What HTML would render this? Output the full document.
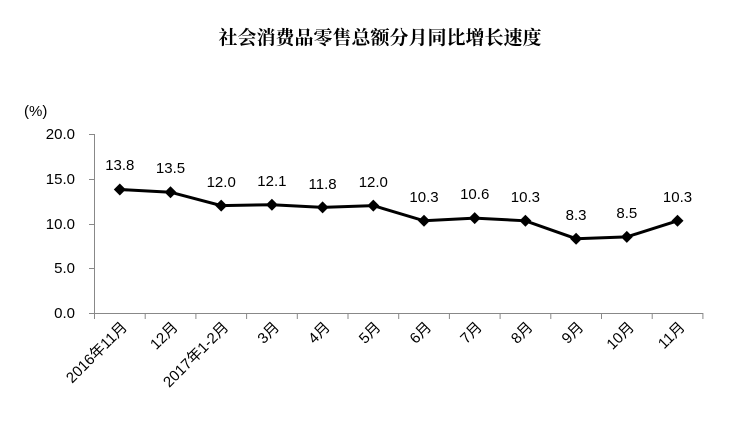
<!DOCTYPE html>
<html><head><meta charset="utf-8"><style>body{margin:0;background:#fff}</style></head><body>
<svg width="741" height="434" xmlns="http://www.w3.org/2000/svg" style="display:block">
<text x="380" y="44" text-anchor="middle" font-family="'Noto Serif CJK SC','Liberation Serif',serif" font-weight="bold" font-size="19">社会消费品零售总额分月同比增长速度</text>
<g font-family="'Liberation Sans','Noto Sans CJK SC',sans-serif" font-size="15" fill="#000">
<text x="24" y="116">(%)</text>
<g text-anchor="end">
<text x="75" y="139">20.0</text>
<text x="75" y="184">15.0</text>
<text x="75" y="229">10.0</text>
<text x="75" y="273">5.0</text>
<text x="75" y="318">0.0</text>
</g>
</g>
<g stroke="#888" stroke-width="1">
<line x1="94.5" y1="134" x2="94.5" y2="313"/>
<line x1="89" y1="134.5" x2="94" y2="134.5"/>
<line x1="89" y1="179.5" x2="94" y2="179.5"/>
<line x1="89" y1="224.5" x2="94" y2="224.5"/>
<line x1="89" y1="268.5" x2="94" y2="268.5"/>
<line x1="89" y1="313.5" x2="703" y2="313.5"/>
</g>
<g stroke="#888">
<line x1="94.5" y1="313" x2="94.5" y2="319"/><line x1="145.2" y1="313" x2="145.2" y2="319"/><line x1="195.9" y1="313" x2="195.9" y2="319"/><line x1="246.6" y1="313" x2="246.6" y2="319"/><line x1="297.3" y1="313" x2="297.3" y2="319"/><line x1="348" y1="313" x2="348" y2="319"/><line x1="398.7" y1="313" x2="398.7" y2="319"/><line x1="449.4" y1="313" x2="449.4" y2="319"/><line x1="500.1" y1="313" x2="500.1" y2="319"/><line x1="550.8" y1="313" x2="550.8" y2="319"/><line x1="601.5" y1="313" x2="601.5" y2="319"/><line x1="652.2" y1="313" x2="652.2" y2="319"/><line x1="702.9" y1="313" x2="702.9" y2="319"/>
</g>
<polyline fill="none" stroke="#000" stroke-width="3" points="119.8,189.5 170.5,192.2 221.2,205.6 271.9,204.7 322.6,207.4 373.3,205.6 424,220.8 474.7,218.1 525.4,220.8 576.1,238.7 626.8,236.9 677.5,220.8"/>
<g fill="#000">
<path d="M119.8,183.5l6,6l-6,6l-6,-6z"/><path d="M170.5,186.2l6,6l-6,6l-6,-6z"/><path d="M221.2,199.6l6,6l-6,6l-6,-6z"/><path d="M271.9,198.7l6,6l-6,6l-6,-6z"/><path d="M322.6,201.4l6,6l-6,6l-6,-6z"/><path d="M373.3,199.6l6,6l-6,6l-6,-6z"/><path d="M424,214.8l6,6l-6,6l-6,-6z"/><path d="M474.7,212.1l6,6l-6,6l-6,-6z"/><path d="M525.4,214.8l6,6l-6,6l-6,-6z"/><path d="M576.1,232.7l6,6l-6,6l-6,-6z"/><path d="M626.8,230.9l6,6l-6,6l-6,-6z"/><path d="M677.5,214.8l6,6l-6,6l-6,-6z"/>
</g>
<g font-family="'Liberation Sans',sans-serif" font-size="15" text-anchor="middle">
<text x="119.8" y="170">13.8</text><text x="170.5" y="173">13.5</text><text x="221.2" y="187">12.0</text><text x="271.9" y="186">12.1</text><text x="322.6" y="189">11.8</text><text x="373.3" y="187">12.0</text><text x="424" y="202">10.3</text><text x="474.7" y="199">10.6</text><text x="525.4" y="202">10.3</text><text x="576.1" y="220">8.3</text><text x="626.8" y="218">8.5</text><text x="677.5" y="202">10.3</text>
</g>
<g font-family="'Liberation Sans','Noto Sans CJK SC',sans-serif" font-size="15" text-anchor="end">
<text transform="translate(128,328) rotate(-45)">2016年11月</text>
<text transform="translate(178.7,328) rotate(-45)">12月</text>
<text transform="translate(229.4,328) rotate(-45)">2017年1-2月</text>
<text transform="translate(280.1,328) rotate(-45)">3月</text>
<text transform="translate(330.8,328) rotate(-45)">4月</text>
<text transform="translate(381.5,328) rotate(-45)">5月</text>
<text transform="translate(432.2,328) rotate(-45)">6月</text>
<text transform="translate(482.9,328) rotate(-45)">7月</text>
<text transform="translate(533.6,328) rotate(-45)">8月</text>
<text transform="translate(584.3,328) rotate(-45)">9月</text>
<text transform="translate(635,328) rotate(-45)">10月</text>
<text transform="translate(685.7,328) rotate(-45)">11月</text>
</g>
</svg>
</body></html>
